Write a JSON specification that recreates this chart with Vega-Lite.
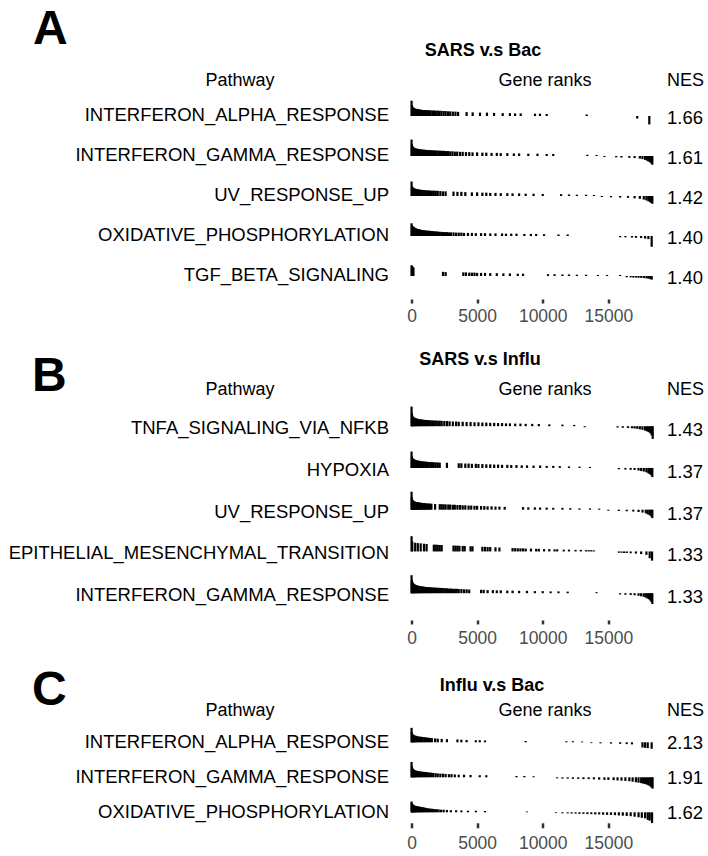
{
  "$schema": "https://vega.github.io/schema/vega-lite/v6.json",
  "padding": {"top": 5, "left": 0, "right": 0, "bottom": 0},
  "background": "white",
  "config": {"view": {"stroke": null}, "font": "Liberation Sans", "title": {"color": "black", "fontWeight": "normal", "fontSize": 18}},
  "datasets": {
    "paths": [
      {"g": "A", "k": "A1", "p": "INTERFERON_ALPHA_RESPONSE", "nes": 1.66},
      {"g": "A", "k": "A2", "p": "INTERFERON_GAMMA_RESPONSE", "nes": 1.61},
      {"g": "A", "k": "A3", "p": "UV_RESPONSE_UP", "nes": 1.42},
      {"g": "A", "k": "A4", "p": "OXIDATIVE_PHOSPHORYLATION", "nes": 1.40},
      {"g": "A", "k": "A5", "p": "TGF_BETA_SIGNALING", "nes": 1.40},
      {"g": "B", "k": "B1", "p": "TNFA_SIGNALING_VIA_NFKB", "nes": 1.43},
      {"g": "B", "k": "B2", "p": "HYPOXIA", "nes": 1.37},
      {"g": "B", "k": "B3", "p": "UV_RESPONSE_UP", "nes": 1.37},
      {"g": "B", "k": "B4", "p": "EPITHELIAL_MESENCHYMAL_TRANSITION", "nes": 1.33},
      {"g": "B", "k": "B5", "p": "INTERFERON_GAMMA_RESPONSE", "nes": 1.33},
      {"g": "C", "k": "C1", "p": "INTERFERON_ALPHA_RESPONSE", "nes": 2.13},
      {"g": "C", "k": "C2", "p": "INTERFERON_GAMMA_RESPONSE", "nes": 1.91},
      {"g": "C", "k": "C3", "p": "OXIDATIVE_PHOSPHORYLATION", "nes": 1.62}
    ],
    "bars": [
      {"k":"A1","r":5,"s":0.83},{"k":"A1","r":40,"s":0.55},{"k":"A1","r":80,"s":0.45},{"k":"A1","r":130,"s":0.4},{"k":"A1","r":180,"s":0.37},{"k":"A1","r":240,"s":0.35},{"k":"A1","r":300,"s":0.33},{"k":"A1","r":370,"s":0.32},{"k":"A1","r":440,"s":0.31},{"k":"A1","r":520,"s":0.3},{"k":"A1","r":600,"s":0.29},{"k":"A1","r":700,"s":0.27},{"k":"A1","r":800,"s":0.26},{"k":"A1","r":900,"s":0.25},{"k":"A1","r":1000,"s":0.25},{"k":"A1","r":1110,"s":0.24},{"k":"A1","r":1220,"s":0.24},{"k":"A1","r":1340,"s":0.23},{"k":"A1","r":1460,"s":0.23},{"k":"A1","r":1600,"s":0.22},{"k":"A1","r":1720,"s":0.22},{"k":"A1","r":1850,"s":0.21},{"k":"A1","r":2000,"s":0.21},{"k":"A1","r":2130,"s":0.2},{"k":"A1","r":2280,"s":0.2},{"k":"A1","r":2450,"s":0.19},{"k":"A1","r":2600,"s":0.19},{"k":"A1","r":2780,"s":0.18},{"k":"A1","r":2950,"s":0.18},{"k":"A1","r":3150,"s":0.17},{"k":"A1","r":3350,"s":0.17},{"k":"A1","r":3550,"s":0.16},{"k":"A1","r":4200,"s":0.15},{"k":"A1","r":4660,"s":0.14},{"k":"A1","r":5220,"s":0.13},{"k":"A1","r":5750,"s":0.13},{"k":"A1","r":6290,"s":0.12},{"k":"A1","r":6950,"s":0.11},{"k":"A1","r":7500,"s":0.11},{"k":"A1","r":7890,"s":0.1},{"k":"A1","r":8320,"s":0.1},{"k":"A1","r":9410,"s":0.09},{"k":"A1","r":9790,"s":0.09},{"k":"A1","r":10300,"s":0.08},{"k":"A1","r":13350,"s":0.06},{"k":"A1","r":17200,"s":-0.1},{"k":"A1","r":18120,"s":-0.4},
      {"k":"A2","r":5,"s":0.9},{"k":"A2","r":30,"s":0.6},{"k":"A2","r":70,"s":0.5},{"k":"A2","r":110,"s":0.45},{"k":"A2","r":160,"s":0.4},{"k":"A2","r":210,"s":0.38},{"k":"A2","r":270,"s":0.36},{"k":"A2","r":330,"s":0.34},{"k":"A2","r":400,"s":0.33},{"k":"A2","r":470,"s":0.32},{"k":"A2","r":540,"s":0.31},{"k":"A2","r":620,"s":0.3},{"k":"A2","r":700,"s":0.29},{"k":"A2","r":780,"s":0.28},{"k":"A2","r":870,"s":0.27},{"k":"A2","r":960,"s":0.27},{"k":"A2","r":1050,"s":0.26},{"k":"A2","r":1150,"s":0.25},{"k":"A2","r":1250,"s":0.25},{"k":"A2","r":1350,"s":0.24},{"k":"A2","r":1460,"s":0.24},{"k":"A2","r":1570,"s":0.23},{"k":"A2","r":1680,"s":0.23},{"k":"A2","r":1800,"s":0.22},{"k":"A2","r":1920,"s":0.22},{"k":"A2","r":2050,"s":0.21},{"k":"A2","r":2180,"s":0.21},{"k":"A2","r":2320,"s":0.2},{"k":"A2","r":2470,"s":0.2},{"k":"A2","r":2620,"s":0.19},{"k":"A2","r":2780,"s":0.19},{"k":"A2","r":2950,"s":0.18},{"k":"A2","r":3120,"s":0.18},{"k":"A2","r":3300,"s":0.17},{"k":"A2","r":3480,"s":0.17},{"k":"A2","r":3700,"s":0.16},{"k":"A2","r":3900,"s":0.16},{"k":"A2","r":4150,"s":0.15},{"k":"A2","r":4400,"s":0.15},{"k":"A2","r":4650,"s":0.14},{"k":"A2","r":5000,"s":0.14},{"k":"A2","r":5400,"s":0.13},{"k":"A2","r":5700,"s":0.13},{"k":"A2","r":6100,"s":0.12},{"k":"A2","r":6500,"s":0.12},{"k":"A2","r":6800,"s":0.11},{"k":"A2","r":7300,"s":0.11},{"k":"A2","r":7800,"s":0.1},{"k":"A2","r":8200,"s":0.1},{"k":"A2","r":8900,"s":0.09},{"k":"A2","r":9600,"s":0.09},{"k":"A2","r":10300,"s":0.08},{"k":"A2","r":10800,"s":0.08},{"k":"A2","r":13400,"s":0.05},{"k":"A2","r":14100,"s":0.04},{"k":"A2","r":14700,"s":-0.04},{"k":"A2","r":15600,"s":-0.05},{"k":"A2","r":16000,"s":-0.06},{"k":"A2","r":16600,"s":-0.07},{"k":"A2","r":17000,"s":-0.08},{"k":"A2","r":17400,"s":-0.1},{"k":"A2","r":17600,"s":-0.12},{"k":"A2","r":17800,"s":-0.15},{"k":"A2","r":17950,"s":-0.18},{"k":"A2","r":18050,"s":-0.21},{"k":"A2","r":18150,"s":-0.25},{"k":"A2","r":18230,"s":-0.3},{"k":"A2","r":18300,"s":-0.36},{"k":"A2","r":18350,"s":-0.42},
      {"k":"A3","r":5,"s":0.78},{"k":"A3","r":40,"s":0.5},{"k":"A3","r":90,"s":0.42},{"k":"A3","r":150,"s":0.38},{"k":"A3","r":220,"s":0.35},{"k":"A3","r":300,"s":0.33},{"k":"A3","r":380,"s":0.31},{"k":"A3","r":470,"s":0.3},{"k":"A3","r":560,"s":0.28},{"k":"A3","r":660,"s":0.27},{"k":"A3","r":770,"s":0.26},{"k":"A3","r":900,"s":0.25},{"k":"A3","r":1000,"s":0.24},{"k":"A3","r":1130,"s":0.23},{"k":"A3","r":1250,"s":0.23},{"k":"A3","r":1400,"s":0.22},{"k":"A3","r":1550,"s":0.21},{"k":"A3","r":1700,"s":0.21},{"k":"A3","r":1850,"s":0.2},{"k":"A3","r":2000,"s":0.2},{"k":"A3","r":2200,"s":0.19},{"k":"A3","r":2400,"s":0.18},{"k":"A3","r":2600,"s":0.18},{"k":"A3","r":3200,"s":0.17},{"k":"A3","r":3500,"s":0.16},{"k":"A3","r":3800,"s":0.16},{"k":"A3","r":4100,"s":0.15},{"k":"A3","r":4600,"s":0.14},{"k":"A3","r":5000,"s":0.14},{"k":"A3","r":5400,"s":0.13},{"k":"A3","r":5700,"s":0.13},{"k":"A3","r":6000,"s":0.12},{"k":"A3","r":6400,"s":0.12},{"k":"A3","r":6800,"s":0.11},{"k":"A3","r":7300,"s":0.11},{"k":"A3","r":7700,"s":0.1},{"k":"A3","r":8200,"s":0.1},{"k":"A3","r":8700,"s":0.09},{"k":"A3","r":9300,"s":0.09},{"k":"A3","r":10000,"s":0.08},{"k":"A3","r":11400,"s":0.07},{"k":"A3","r":12000,"s":0.06},{"k":"A3","r":12600,"s":0.05},{"k":"A3","r":13300,"s":0.05},{"k":"A3","r":13900,"s":0.04},{"k":"A3","r":14500,"s":-0.04},{"k":"A3","r":15200,"s":-0.05},{"k":"A3","r":15900,"s":-0.06},{"k":"A3","r":16500,"s":-0.07},{"k":"A3","r":17000,"s":-0.09},{"k":"A3","r":17400,"s":-0.11},{"k":"A3","r":17700,"s":-0.14},{"k":"A3","r":17900,"s":-0.17},{"k":"A3","r":18050,"s":-0.21},{"k":"A3","r":18180,"s":-0.26},{"k":"A3","r":18280,"s":-0.31},{"k":"A3","r":18350,"s":-0.36},
      {"k":"A4","r":5,"s":0.67},{"k":"A4","r":30,"s":0.55},{"k":"A4","r":60,"s":0.5},{"k":"A4","r":90,"s":0.47},{"k":"A4","r":130,"s":0.45},{"k":"A4","r":170,"s":0.42},{"k":"A4","r":210,"s":0.4},{"k":"A4","r":260,"s":0.38},{"k":"A4","r":310,"s":0.36},{"k":"A4","r":360,"s":0.34},{"k":"A4","r":420,"s":0.32},{"k":"A4","r":480,"s":0.31},{"k":"A4","r":540,"s":0.3},{"k":"A4","r":600,"s":0.28},{"k":"A4","r":670,"s":0.27},{"k":"A4","r":740,"s":0.26},{"k":"A4","r":810,"s":0.25},{"k":"A4","r":890,"s":0.24},{"k":"A4","r":970,"s":0.23},{"k":"A4","r":1050,"s":0.22},{"k":"A4","r":1130,"s":0.21},{"k":"A4","r":1220,"s":0.21},{"k":"A4","r":1310,"s":0.2},{"k":"A4","r":1400,"s":0.2},{"k":"A4","r":1500,"s":0.19},{"k":"A4","r":1600,"s":0.19},{"k":"A4","r":1700,"s":0.18},{"k":"A4","r":1810,"s":0.18},{"k":"A4","r":1920,"s":0.17},{"k":"A4","r":2030,"s":0.17},{"k":"A4","r":2150,"s":0.16},{"k":"A4","r":2280,"s":0.16},{"k":"A4","r":2400,"s":0.15},{"k":"A4","r":2550,"s":0.15},{"k":"A4","r":2700,"s":0.15},{"k":"A4","r":2850,"s":0.14},{"k":"A4","r":3000,"s":0.14},{"k":"A4","r":3200,"s":0.14},{"k":"A4","r":3400,"s":0.13},{"k":"A4","r":3600,"s":0.13},{"k":"A4","r":3800,"s":0.13},{"k":"A4","r":4000,"s":0.12},{"k":"A4","r":4300,"s":0.12},{"k":"A4","r":4600,"s":0.12},{"k":"A4","r":4900,"s":0.11},{"k":"A4","r":5300,"s":0.11},{"k":"A4","r":5600,"s":0.11},{"k":"A4","r":6000,"s":0.1},{"k":"A4","r":6400,"s":0.1},{"k":"A4","r":6900,"s":0.1},{"k":"A4","r":7200,"s":0.09},{"k":"A4","r":7600,"s":0.09},{"k":"A4","r":8000,"s":0.09},{"k":"A4","r":8600,"s":0.08},{"k":"A4","r":9100,"s":0.08},{"k":"A4","r":9500,"s":0.08},{"k":"A4","r":10100,"s":0.07},{"k":"A4","r":11200,"s":0.06},{"k":"A4","r":11900,"s":0.06},{"k":"A4","r":15900,"s":-0.05},{"k":"A4","r":16300,"s":-0.05},{"k":"A4","r":16800,"s":-0.06},{"k":"A4","r":17100,"s":-0.07},{"k":"A4","r":17500,"s":-0.08},{"k":"A4","r":17800,"s":-0.1},{"k":"A4","r":18050,"s":-0.12},{"k":"A4","r":18300,"s":-0.55},
      {"k":"A5","r":5,"s":0.55},{"k":"A5","r":40,"s":0.5},{"k":"A5","r":90,"s":0.45},{"k":"A5","r":150,"s":0.4},{"k":"A5","r":2400,"s":0.16},{"k":"A5","r":2600,"s":0.15},{"k":"A5","r":3950,"s":0.14},{"k":"A5","r":4150,"s":0.14},{"k":"A5","r":4400,"s":0.13},{"k":"A5","r":4600,"s":0.13},{"k":"A5","r":4800,"s":0.13},{"k":"A5","r":5000,"s":0.12},{"k":"A5","r":5300,"s":0.12},{"k":"A5","r":5600,"s":0.12},{"k":"A5","r":6000,"s":0.11},{"k":"A5","r":6500,"s":0.11},{"k":"A5","r":7000,"s":0.1},{"k":"A5","r":7500,"s":0.1},{"k":"A5","r":8100,"s":0.09},{"k":"A5","r":8500,"s":0.09},{"k":"A5","r":10400,"s":0.07},{"k":"A5","r":10900,"s":0.07},{"k":"A5","r":11500,"s":0.06},{"k":"A5","r":12000,"s":0.06},{"k":"A5","r":12600,"s":0.05},{"k":"A5","r":13300,"s":0.05},{"k":"A5","r":14200,"s":0.04},{"k":"A5","r":14900,"s":0.04},{"k":"A5","r":15900,"s":0.04},{"k":"A5","r":16400,"s":-0.05},{"k":"A5","r":16700,"s":-0.05},{"k":"A5","r":16900,"s":-0.06},{"k":"A5","r":17100,"s":-0.06},{"k":"A5","r":17300,"s":-0.07},{"k":"A5","r":17500,"s":-0.07},{"k":"A5","r":17700,"s":-0.08},{"k":"A5","r":17900,"s":-0.09},{"k":"A5","r":18050,"s":-0.1},{"k":"A5","r":18200,"s":-0.12},{"k":"A5","r":18300,"s":-0.14},
      {"k":"B1","r":5,"s":1.1},{"k":"B1","r":30,"s":0.7},{"k":"B1","r":60,"s":0.55},{"k":"B1","r":100,"s":0.48},{"k":"B1","r":150,"s":0.44},{"k":"B1","r":200,"s":0.41},{"k":"B1","r":260,"s":0.39},{"k":"B1","r":320,"s":0.37},{"k":"B1","r":390,"s":0.35},{"k":"B1","r":460,"s":0.34},{"k":"B1","r":540,"s":0.32},{"k":"B1","r":620,"s":0.31},{"k":"B1","r":700,"s":0.3},{"k":"B1","r":800,"s":0.29},{"k":"B1","r":900,"s":0.28},{"k":"B1","r":1000,"s":0.27},{"k":"B1","r":1100,"s":0.26},{"k":"B1","r":1200,"s":0.26},{"k":"B1","r":1330,"s":0.25},{"k":"B1","r":1450,"s":0.24},{"k":"B1","r":1580,"s":0.24},{"k":"B1","r":1700,"s":0.23},{"k":"B1","r":1850,"s":0.23},{"k":"B1","r":2000,"s":0.22},{"k":"B1","r":2150,"s":0.22},{"k":"B1","r":2300,"s":0.21},{"k":"B1","r":2500,"s":0.2},{"k":"B1","r":2700,"s":0.2},{"k":"B1","r":2900,"s":0.19},{"k":"B1","r":3150,"s":0.18},{"k":"B1","r":3400,"s":0.18},{"k":"B1","r":3600,"s":0.17},{"k":"B1","r":3900,"s":0.17},{"k":"B1","r":4200,"s":0.16},{"k":"B1","r":4500,"s":0.16},{"k":"B1","r":4800,"s":0.15},{"k":"B1","r":5100,"s":0.15},{"k":"B1","r":5400,"s":0.14},{"k":"B1","r":5700,"s":0.14},{"k":"B1","r":6000,"s":0.13},{"k":"B1","r":6300,"s":0.13},{"k":"B1","r":6600,"s":0.12},{"k":"B1","r":6900,"s":0.12},{"k":"B1","r":7200,"s":0.11},{"k":"B1","r":7500,"s":0.11},{"k":"B1","r":7900,"s":0.1},{"k":"B1","r":8300,"s":0.1},{"k":"B1","r":8700,"s":0.09},{"k":"B1","r":9200,"s":0.09},{"k":"B1","r":9700,"s":0.08},{"k":"B1","r":10500,"s":0.07},{"k":"B1","r":11500,"s":0.06},{"k":"B1","r":12400,"s":0.05},{"k":"B1","r":13200,"s":-0.04},{"k":"B1","r":15700,"s":-0.05},{"k":"B1","r":16100,"s":-0.06},{"k":"B1","r":16500,"s":-0.07},{"k":"B1","r":16800,"s":-0.08},{"k":"B1","r":17000,"s":-0.09},{"k":"B1","r":17200,"s":-0.1},{"k":"B1","r":17400,"s":-0.12},{"k":"B1","r":17600,"s":-0.14},{"k":"B1","r":17800,"s":-0.17},{"k":"B1","r":17950,"s":-0.2},{"k":"B1","r":18080,"s":-0.25},{"k":"B1","r":18200,"s":-0.32},{"k":"B1","r":18300,"s":-0.45},{"k":"B1","r":18380,"s":-0.67},
      {"k":"B2","r":5,"s":0.9},{"k":"B2","r":30,"s":0.6},{"k":"B2","r":70,"s":0.5},{"k":"B2","r":120,"s":0.45},{"k":"B2","r":180,"s":0.42},{"k":"B2","r":250,"s":0.39},{"k":"B2","r":330,"s":0.37},{"k":"B2","r":420,"s":0.35},{"k":"B2","r":520,"s":0.33},{"k":"B2","r":620,"s":0.32},{"k":"B2","r":730,"s":0.3},{"k":"B2","r":840,"s":0.29},{"k":"B2","r":950,"s":0.28},{"k":"B2","r":1060,"s":0.27},{"k":"B2","r":1180,"s":0.26},{"k":"B2","r":1300,"s":0.25},{"k":"B2","r":1430,"s":0.24},{"k":"B2","r":1560,"s":0.24},{"k":"B2","r":1700,"s":0.23},{"k":"B2","r":1850,"s":0.22},{"k":"B2","r":2000,"s":0.22},{"k":"B2","r":2150,"s":0.21},{"k":"B2","r":2700,"s":0.2},{"k":"B2","r":3600,"s":0.18},{"k":"B2","r":3800,"s":0.18},{"k":"B2","r":4100,"s":0.17},{"k":"B2","r":4350,"s":0.17},{"k":"B2","r":4600,"s":0.16},{"k":"B2","r":4900,"s":0.16},{"k":"B2","r":5100,"s":0.15},{"k":"B2","r":5400,"s":0.15},{"k":"B2","r":5700,"s":0.14},{"k":"B2","r":6000,"s":0.14},{"k":"B2","r":6300,"s":0.13},{"k":"B2","r":6600,"s":0.13},{"k":"B2","r":6900,"s":0.12},{"k":"B2","r":7300,"s":0.12},{"k":"B2","r":7600,"s":0.11},{"k":"B2","r":8000,"s":0.11},{"k":"B2","r":8400,"s":0.1},{"k":"B2","r":8800,"s":0.1},{"k":"B2","r":9300,"s":0.09},{"k":"B2","r":9800,"s":0.09},{"k":"B2","r":10300,"s":0.08},{"k":"B2","r":10800,"s":0.08},{"k":"B2","r":11300,"s":0.07},{"k":"B2","r":12000,"s":0.06},{"k":"B2","r":12800,"s":0.05},{"k":"B2","r":13600,"s":0.04},{"k":"B2","r":15800,"s":-0.05},{"k":"B2","r":16300,"s":-0.06},{"k":"B2","r":16700,"s":-0.07},{"k":"B2","r":17000,"s":-0.08},{"k":"B2","r":17300,"s":-0.1},{"k":"B2","r":17500,"s":-0.12},{"k":"B2","r":17700,"s":-0.14},{"k":"B2","r":17900,"s":-0.17},{"k":"B2","r":18050,"s":-0.21},{"k":"B2","r":18150,"s":-0.26},{"k":"B2","r":18250,"s":-0.33},{"k":"B2","r":18350,"s":-0.45},
      {"k":"B3","r":5,"s":1.0},{"k":"B3","r":25,"s":0.65},{"k":"B3","r":55,"s":0.52},{"k":"B3","r":90,"s":0.47},{"k":"B3","r":130,"s":0.44},{"k":"B3","r":175,"s":0.41},{"k":"B3","r":225,"s":0.39},{"k":"B3","r":280,"s":0.37},{"k":"B3","r":340,"s":0.36},{"k":"B3","r":400,"s":0.35},{"k":"B3","r":470,"s":0.34},{"k":"B3","r":540,"s":0.33},{"k":"B3","r":610,"s":0.32},{"k":"B3","r":690,"s":0.31},{"k":"B3","r":770,"s":0.3},{"k":"B3","r":850,"s":0.29},{"k":"B3","r":940,"s":0.28},{"k":"B3","r":1030,"s":0.28},{"k":"B3","r":1120,"s":0.27},{"k":"B3","r":1220,"s":0.26},{"k":"B3","r":1320,"s":0.26},{"k":"B3","r":1420,"s":0.25},{"k":"B3","r":1520,"s":0.25},{"k":"B3","r":1800,"s":0.23},{"k":"B3","r":2150,"s":0.22},{"k":"B3","r":2300,"s":0.22},{"k":"B3","r":2450,"s":0.21},{"k":"B3","r":2600,"s":0.21},{"k":"B3","r":2800,"s":0.2},{"k":"B3","r":2950,"s":0.2},{"k":"B3","r":3150,"s":0.19},{"k":"B3","r":3300,"s":0.19},{"k":"B3","r":3500,"s":0.18},{"k":"B3","r":3700,"s":0.18},{"k":"B3","r":3900,"s":0.17},{"k":"B3","r":4100,"s":0.17},{"k":"B3","r":4350,"s":0.16},{"k":"B3","r":4550,"s":0.16},{"k":"B3","r":4800,"s":0.15},{"k":"B3","r":5000,"s":0.15},{"k":"B3","r":5300,"s":0.14},{"k":"B3","r":5550,"s":0.14},{"k":"B3","r":5800,"s":0.13},{"k":"B3","r":6100,"s":0.13},{"k":"B3","r":6400,"s":0.12},{"k":"B3","r":6700,"s":0.12},{"k":"B3","r":7100,"s":0.11},{"k":"B3","r":8500,"s":0.1},{"k":"B3","r":8900,"s":0.09},{"k":"B3","r":9400,"s":0.09},{"k":"B3","r":9800,"s":0.08},{"k":"B3","r":10300,"s":0.08},{"k":"B3","r":10800,"s":0.07},{"k":"B3","r":11500,"s":0.07},{"k":"B3","r":12100,"s":0.06},{"k":"B3","r":12800,"s":0.05},{"k":"B3","r":13600,"s":0.05},{"k":"B3","r":14300,"s":0.04},{"k":"B3","r":15000,"s":-0.04},{"k":"B3","r":15800,"s":-0.05},{"k":"B3","r":16400,"s":-0.06},{"k":"B3","r":16900,"s":-0.07},{"k":"B3","r":17300,"s":-0.09},{"k":"B3","r":17600,"s":-0.11},{"k":"B3","r":17850,"s":-0.14},{"k":"B3","r":18000,"s":-0.18},{"k":"B3","r":18150,"s":-0.23},{"k":"B3","r":18270,"s":-0.3},{"k":"B3","r":18350,"s":-0.4},
      {"k":"B4","r":5,"s":0.83},{"k":"B4","r":60,"s":0.5},{"k":"B4","r":280,"s":0.42},{"k":"B4","r":480,"s":0.4},{"k":"B4","r":700,"s":0.38},{"k":"B4","r":950,"s":0.36},{"k":"B4","r":1150,"s":0.34},{"k":"B4","r":1700,"s":0.3},{"k":"B4","r":1850,"s":0.3},{"k":"B4","r":2000,"s":0.29},{"k":"B4","r":2150,"s":0.28},{"k":"B4","r":2300,"s":0.28},{"k":"B4","r":3200,"s":0.24},{"k":"B4","r":3350,"s":0.24},{"k":"B4","r":3500,"s":0.23},{"k":"B4","r":3650,"s":0.23},{"k":"B4","r":3900,"s":0.22},{"k":"B4","r":4050,"s":0.22},{"k":"B4","r":4500,"s":0.2},{"k":"B4","r":4650,"s":0.2},{"k":"B4","r":5400,"s":0.18},{"k":"B4","r":5600,"s":0.18},{"k":"B4","r":5800,"s":0.17},{"k":"B4","r":6000,"s":0.17},{"k":"B4","r":6400,"s":0.16},{"k":"B4","r":6700,"s":0.15},{"k":"B4","r":7700,"s":0.13},{"k":"B4","r":7900,"s":0.13},{"k":"B4","r":8100,"s":0.12},{"k":"B4","r":8300,"s":0.12},{"k":"B4","r":8500,"s":0.12},{"k":"B4","r":8700,"s":0.11},{"k":"B4","r":9100,"s":0.11},{"k":"B4","r":9500,"s":0.1},{"k":"B4","r":9700,"s":0.1},{"k":"B4","r":10100,"s":0.09},{"k":"B4","r":10500,"s":0.09},{"k":"B4","r":10900,"s":0.08},{"k":"B4","r":11100,"s":0.08},{"k":"B4","r":11600,"s":0.07},{"k":"B4","r":12000,"s":0.07},{"k":"B4","r":12500,"s":0.06},{"k":"B4","r":12900,"s":0.06},{"k":"B4","r":13300,"s":0.05},{"k":"B4","r":13500,"s":0.05},{"k":"B4","r":13700,"s":0.05},{"k":"B4","r":13900,"s":0.04},{"k":"B4","r":15800,"s":-0.05},{"k":"B4","r":16000,"s":-0.05},{"k":"B4","r":16200,"s":-0.06},{"k":"B4","r":16400,"s":-0.06},{"k":"B4","r":16700,"s":-0.07},{"k":"B4","r":17100,"s":-0.08},{"k":"B4","r":17500,"s":-0.1},{"k":"B4","r":17900,"s":-0.13},{"k":"B4","r":18150,"s":-0.3},{"k":"B4","r":18330,"s":-0.45},
      {"k":"B5","r":5,"s":1.0},{"k":"B5","r":25,"s":0.7},{"k":"B5","r":50,"s":0.6},{"k":"B5","r":80,"s":0.55},{"k":"B5","r":115,"s":0.5},{"k":"B5","r":150,"s":0.47},{"k":"B5","r":190,"s":0.45},{"k":"B5","r":235,"s":0.42},{"k":"B5","r":280,"s":0.4},{"k":"B5","r":330,"s":0.38},{"k":"B5","r":380,"s":0.37},{"k":"B5","r":440,"s":0.35},{"k":"B5","r":500,"s":0.34},{"k":"B5","r":560,"s":0.33},{"k":"B5","r":630,"s":0.32},{"k":"B5","r":700,"s":0.31},{"k":"B5","r":780,"s":0.3},{"k":"B5","r":860,"s":0.29},{"k":"B5","r":940,"s":0.28},{"k":"B5","r":1020,"s":0.27},{"k":"B5","r":1110,"s":0.26},{"k":"B5","r":1200,"s":0.26},{"k":"B5","r":1300,"s":0.25},{"k":"B5","r":1400,"s":0.24},{"k":"B5","r":1500,"s":0.24},{"k":"B5","r":1600,"s":0.23},{"k":"B5","r":1710,"s":0.23},{"k":"B5","r":1820,"s":0.22},{"k":"B5","r":1930,"s":0.22},{"k":"B5","r":2050,"s":0.21},{"k":"B5","r":2170,"s":0.21},{"k":"B5","r":2300,"s":0.2},{"k":"B5","r":2430,"s":0.2},{"k":"B5","r":2570,"s":0.19},{"k":"B5","r":2700,"s":0.19},{"k":"B5","r":2850,"s":0.18},{"k":"B5","r":3000,"s":0.18},{"k":"B5","r":3150,"s":0.17},{"k":"B5","r":3300,"s":0.17},{"k":"B5","r":3450,"s":0.17},{"k":"B5","r":3600,"s":0.16},{"k":"B5","r":3800,"s":0.16},{"k":"B5","r":4000,"s":0.15},{"k":"B5","r":4200,"s":0.15},{"k":"B5","r":4400,"s":0.14},{"k":"B5","r":5300,"s":0.13},{"k":"B5","r":5500,"s":0.13},{"k":"B5","r":5800,"s":0.12},{"k":"B5","r":6200,"s":0.12},{"k":"B5","r":6500,"s":0.11},{"k":"B5","r":6800,"s":0.11},{"k":"B5","r":7300,"s":0.1},{"k":"B5","r":7700,"s":0.1},{"k":"B5","r":8200,"s":0.09},{"k":"B5","r":8800,"s":0.09},{"k":"B5","r":9400,"s":0.08},{"k":"B5","r":10000,"s":0.08},{"k":"B5","r":10600,"s":0.07},{"k":"B5","r":11200,"s":0.07},{"k":"B5","r":11900,"s":0.06},{"k":"B5","r":14100,"s":0.04},{"k":"B5","r":15900,"s":-0.05},{"k":"B5","r":16300,"s":-0.06},{"k":"B5","r":16700,"s":-0.07},{"k":"B5","r":17000,"s":-0.08},{"k":"B5","r":17300,"s":-0.1},{"k":"B5","r":17500,"s":-0.12},{"k":"B5","r":17700,"s":-0.14},{"k":"B5","r":17850,"s":-0.17},{"k":"B5","r":17980,"s":-0.21},{"k":"B5","r":18100,"s":-0.26},{"k":"B5","r":18200,"s":-0.33},{"k":"B5","r":18280,"s":-0.42},{"k":"B5","r":18350,"s":-0.55},
      {"k":"C1","r":5,"s":0.78},{"k":"C1","r":30,"s":0.5},{"k":"C1","r":70,"s":0.4},{"k":"C1","r":120,"s":0.35},{"k":"C1","r":180,"s":0.32},{"k":"C1","r":250,"s":0.3},{"k":"C1","r":330,"s":0.28},{"k":"C1","r":420,"s":0.26},{"k":"C1","r":520,"s":0.24},{"k":"C1","r":620,"s":0.23},{"k":"C1","r":730,"s":0.22},{"k":"C1","r":850,"s":0.21},{"k":"C1","r":980,"s":0.2},{"k":"C1","r":1100,"s":0.19},{"k":"C1","r":1250,"s":0.18},{"k":"C1","r":1400,"s":0.17},{"k":"C1","r":1550,"s":0.16},{"k":"C1","r":1800,"s":0.15},{"k":"C1","r":2000,"s":0.14},{"k":"C1","r":2300,"s":0.13},{"k":"C1","r":2700,"s":0.12},{"k":"C1","r":3500,"s":0.11},{"k":"C1","r":3800,"s":0.1},{"k":"C1","r":4200,"s":0.09},{"k":"C1","r":4900,"s":0.08},{"k":"C1","r":5200,"s":0.08},{"k":"C1","r":5600,"s":0.07},{"k":"C1","r":8700,"s":0.05},{"k":"C1","r":11800,"s":0.04},{"k":"C1","r":12300,"s":0.04},{"k":"C1","r":13000,"s":0.03},{"k":"C1","r":13700,"s":-0.03},{"k":"C1","r":14400,"s":-0.04},{"k":"C1","r":15200,"s":-0.05},{"k":"C1","r":15900,"s":-0.06},{"k":"C1","r":16400,"s":-0.07},{"k":"C1","r":16800,"s":-0.08},{"k":"C1","r":17600,"s":-0.2},{"k":"C1","r":17800,"s":-0.22},{"k":"C1","r":18000,"s":-0.24},{"k":"C1","r":18300,"s":-0.28},
      {"k":"C2","r":5,"s":0.83},{"k":"C2","r":30,"s":0.55},{"k":"C2","r":65,"s":0.45},{"k":"C2","r":110,"s":0.4},{"k":"C2","r":160,"s":0.36},{"k":"C2","r":220,"s":0.33},{"k":"C2","r":290,"s":0.31},{"k":"C2","r":370,"s":0.29},{"k":"C2","r":460,"s":0.27},{"k":"C2","r":560,"s":0.26},{"k":"C2","r":670,"s":0.24},{"k":"C2","r":780,"s":0.23},{"k":"C2","r":900,"s":0.22},{"k":"C2","r":1030,"s":0.21},{"k":"C2","r":1170,"s":0.2},{"k":"C2","r":1320,"s":0.19},{"k":"C2","r":1480,"s":0.18},{"k":"C2","r":1650,"s":0.17},{"k":"C2","r":1830,"s":0.16},{"k":"C2","r":2000,"s":0.15},{"k":"C2","r":2200,"s":0.14},{"k":"C2","r":2400,"s":0.14},{"k":"C2","r":2600,"s":0.13},{"k":"C2","r":2850,"s":0.12},{"k":"C2","r":3050,"s":0.12},{"k":"C2","r":3300,"s":0.11},{"k":"C2","r":3600,"s":0.1},{"k":"C2","r":4000,"s":0.1},{"k":"C2","r":4500,"s":0.09},{"k":"C2","r":5200,"s":0.08},{"k":"C2","r":5700,"s":0.08},{"k":"C2","r":8000,"s":0.05},{"k":"C2","r":8600,"s":0.05},{"k":"C2","r":9300,"s":0.04},{"k":"C2","r":11100,"s":-0.04},{"k":"C2","r":11500,"s":-0.05},{"k":"C2","r":11900,"s":-0.05},{"k":"C2","r":12300,"s":-0.06},{"k":"C2","r":12700,"s":-0.06},{"k":"C2","r":13100,"s":-0.07},{"k":"C2","r":13500,"s":-0.07},{"k":"C2","r":13900,"s":-0.08},{"k":"C2","r":14300,"s":-0.09},{"k":"C2","r":14700,"s":-0.1},{"k":"C2","r":15000,"s":-0.1},{"k":"C2","r":15400,"s":-0.11},{"k":"C2","r":15700,"s":-0.12},{"k":"C2","r":16000,"s":-0.13},{"k":"C2","r":16300,"s":-0.14},{"k":"C2","r":16600,"s":-0.15},{"k":"C2","r":16850,"s":-0.17},{"k":"C2","r":17100,"s":-0.19},{"k":"C2","r":17300,"s":-0.21},{"k":"C2","r":17500,"s":-0.24},{"k":"C2","r":17650,"s":-0.27},{"k":"C2","r":17800,"s":-0.3},{"k":"C2","r":17950,"s":-0.34},{"k":"C2","r":18080,"s":-0.39},{"k":"C2","r":18200,"s":-0.45},{"k":"C2","r":18300,"s":-0.52},{"k":"C2","r":18370,"s":-0.58},
      {"k":"C3","r":5,"s":0.55},{"k":"C3","r":25,"s":0.45},{"k":"C3","r":50,"s":0.4},{"k":"C3","r":80,"s":0.37},{"k":"C3","r":115,"s":0.34},{"k":"C3","r":155,"s":0.32},{"k":"C3","r":200,"s":0.3},{"k":"C3","r":250,"s":0.28},{"k":"C3","r":300,"s":0.27},{"k":"C3","r":360,"s":0.26},{"k":"C3","r":420,"s":0.25},{"k":"C3","r":490,"s":0.24},{"k":"C3","r":560,"s":0.23},{"k":"C3","r":640,"s":0.22},{"k":"C3","r":720,"s":0.21},{"k":"C3","r":800,"s":0.2},{"k":"C3","r":890,"s":0.19},{"k":"C3","r":980,"s":0.18},{"k":"C3","r":1080,"s":0.17},{"k":"C3","r":1180,"s":0.16},{"k":"C3","r":1290,"s":0.15},{"k":"C3","r":1400,"s":0.14},{"k":"C3","r":1520,"s":0.14},{"k":"C3","r":1650,"s":0.13},{"k":"C3","r":1780,"s":0.12},{"k":"C3","r":1920,"s":0.12},{"k":"C3","r":2070,"s":0.11},{"k":"C3","r":2250,"s":0.1},{"k":"C3","r":2450,"s":0.1},{"k":"C3","r":2700,"s":0.09},{"k":"C3","r":3000,"s":0.08},{"k":"C3","r":3400,"s":0.08},{"k":"C3","r":3800,"s":0.07},{"k":"C3","r":4300,"s":0.06},{"k":"C3","r":4900,"s":0.06},{"k":"C3","r":5600,"s":0.05},{"k":"C3","r":8800,"s":0.03},{"k":"C3","r":11000,"s":-0.03},{"k":"C3","r":11500,"s":-0.04},{"k":"C3","r":11900,"s":-0.04},{"k":"C3","r":12200,"s":-0.05},{"k":"C3","r":12500,"s":-0.05},{"k":"C3","r":12800,"s":-0.06},{"k":"C3","r":13100,"s":-0.06},{"k":"C3","r":13400,"s":-0.07},{"k":"C3","r":13700,"s":-0.07},{"k":"C3","r":14000,"s":-0.08},{"k":"C3","r":14300,"s":-0.08},{"k":"C3","r":14600,"s":-0.09},{"k":"C3","r":14900,"s":-0.1},{"k":"C3","r":15200,"s":-0.1},{"k":"C3","r":15500,"s":-0.11},{"k":"C3","r":15800,"s":-0.12},{"k":"C3","r":16100,"s":-0.13},{"k":"C3","r":16400,"s":-0.14},{"k":"C3","r":16700,"s":-0.15},{"k":"C3","r":17000,"s":-0.17},{"k":"C3","r":17300,"s":-0.19},{"k":"C3","r":17550,"s":-0.22},{"k":"C3","r":17800,"s":-0.25},{"k":"C3","r":18000,"s":-0.35},{"k":"C3","r":18150,"s":-0.4},{"k":"C3","r":18330,"s":-0.55}
    ]
  },
  "spacing": 20.3,
  "vconcat": [
    {
      "spacing": 25.2,
      "vconcat": [
        {
          "title": {"text": "A", "anchor": "start", "fontSize": 48, "fontWeight": "bold", "dx": 33, "offset": -11.6},
          "vconcat": [{
            "title": {"text": "SARS v.s Bac", "anchor": "middle", "fontSize": 18, "fontWeight": "bold", "dx": 129, "offset": 12},
            "bounds": "flush",
            "spacing": 22.5,
            "hconcat": [
              {"width": 389, "height": 200,
               "title": {"text": "Pathway", "anchor": "middle", "frame": "group", "dx": 45.5, "offset": 6},
               "data": {"name": "paths"}, "transform": [{"filter": {"field": "g", "equal": "A"}}],
               "mark": {"type": "text", "align": "right", "baseline": "middle", "fontSize": 18.5, "dy": -1, "color": "black"},
               "encoding": {"y": {"field": "k", "type": "nominal", "axis": null, "scale": {"type": "band", "paddingInner": 0, "paddingOuter": 0}}, "x": {"value": "width"}, "text": {"field": "p", "type": "nominal"}}},
              {"width": 242, "height": 200,
               "title": {"text": "Gene ranks", "anchor": "middle", "frame": "group", "dx": 12.5, "offset": 6},
               "data": {"name": "bars"}, "transform": [{"filter": {"field": "k", "oneOf": ["A1", "A2", "A3", "A4", "A5"]}}],
               "mark": {"type": "tick", "orient": "vertical", "thickness": 2.2, "color": "black", "opacity": 1},
               "encoding": {
                 "x": {"field": "r", "type": "quantitative", "scale": {"domain": [0, 18440], "nice": false}, "axis": {"values": [0, 5000, 10000, 15000], "format": "d", "title": null, "domain": false, "grid": false, "tickSize": 4, "tickWidth": 2.5, "tickColor": "#333333", "labelFontSize": 17.5, "labelColor": "#4d4d4d", "labelPadding": 4.5, "labelFlush": false, "offset": 3}},
                 "y": {"field": "k", "type": "nominal", "axis": null, "scale": {"type": "band", "paddingInner": 0, "paddingOuter": 0}},
                 "yOffset": {"field": "s", "type": "quantitative", "scale": {"domain": [-1, -0.2, 0, 0.2, 1], "range": [29, 22.6, 20, 17.4, 11]}},
                 "size": {"field": "s", "type": "quantitative", "scale": {"domain": [-1, -0.2, 0, 0.2, 1], "range": [18, 5.2, 0, 5.2, 18]}, "legend": null}
               }},
              {"width": 32, "height": 200,
               "title": {"text": "NES", "anchor": "start", "frame": "group", "dx": -9, "offset": 6},
               "data": {"name": "paths"}, "transform": [{"filter": {"field": "g", "equal": "A"}}],
               "mark": {"type": "text", "align": "left", "baseline": "middle", "fontSize": 18.5, "dx": -9, "dy": 2, "color": "black"},
               "encoding": {"y": {"field": "k", "type": "nominal", "axis": null, "scale": {"type": "band", "paddingInner": 0, "paddingOuter": 0}}, "x": {"value": 0}, "text": {"field": "nes", "type": "quantitative", "format": ".2f"}}}
            ]
          }]
        },
        {
          "title": {"text": "B", "anchor": "start", "fontSize": 48, "fontWeight": "bold", "dx": 32, "offset": -49.8},
          "vconcat": [{
            "title": {"text": "SARS v.s Influ", "anchor": "middle", "fontSize": 18, "fontWeight": "bold", "dx": 126, "offset": 12},
            "bounds": "flush",
            "spacing": 22.5,
            "hconcat": [
              {"width": 389, "height": 208.75,
               "title": {"text": "Pathway", "anchor": "middle", "frame": "group", "dx": 45.5, "offset": 7.5},
               "data": {"name": "paths"}, "transform": [{"filter": {"field": "g", "equal": "B"}}],
               "mark": {"type": "text", "align": "right", "baseline": "middle", "fontSize": 18.5, "dy": 1, "color": "black"},
               "encoding": {"y": {"field": "k", "type": "nominal", "axis": null, "scale": {"type": "band", "paddingInner": 0, "paddingOuter": 0}}, "x": {"value": "width"}, "text": {"field": "p", "type": "nominal"}}},
              {"width": 242, "height": 208.75,
               "title": {"text": "Gene ranks", "anchor": "middle", "frame": "group", "dx": 12.5, "offset": 7.5},
               "data": {"name": "bars"}, "transform": [{"filter": {"field": "k", "oneOf": ["B1", "B2", "B3", "B4", "B5"]}}],
               "mark": {"type": "tick", "orient": "vertical", "thickness": 2.2, "color": "black", "opacity": 1},
               "encoding": {
                 "x": {"field": "r", "type": "quantitative", "scale": {"domain": [0, 18440], "nice": false}, "axis": {"values": [0, 5000, 10000, 15000], "format": "d", "title": null, "domain": false, "grid": false, "tickSize": 4, "tickWidth": 2.5, "tickColor": "#333333", "labelFontSize": 17.5, "labelColor": "#4d4d4d", "labelPadding": 5.5, "labelFlush": false, "offset": 5}},
                 "y": {"field": "k", "type": "nominal", "axis": null, "scale": {"type": "band", "paddingInner": 0, "paddingOuter": 0}},
                 "yOffset": {"field": "s", "type": "quantitative", "scale": {"domain": [-1, -0.2, 0, 0.2, 1], "range": [29.875, 23.475, 20.875, 18.275, 11.875]}},
                 "size": {"field": "s", "type": "quantitative", "scale": {"domain": [-1, -0.2, 0, 0.2, 1], "range": [18, 5.2, 0, 5.2, 18]}, "legend": null}
               }},
              {"width": 32, "height": 208.75,
               "title": {"text": "NES", "anchor": "start", "frame": "group", "dx": -9, "offset": 7.5},
               "data": {"name": "paths"}, "transform": [{"filter": {"field": "g", "equal": "B"}}],
               "mark": {"type": "text", "align": "left", "baseline": "middle", "fontSize": 18.5, "dx": -9, "dy": 3, "color": "black"},
               "encoding": {"y": {"field": "k", "type": "nominal", "axis": null, "scale": {"type": "band", "paddingInner": 0, "paddingOuter": 0}}, "x": {"value": 0}, "text": {"field": "nes", "type": "quantitative", "format": ".2f"}}}
            ]
          }]
        }
      ]
    },
    {
      "title": {"text": "C", "anchor": "start", "fontSize": 48, "fontWeight": "bold", "dx": 32, "offset": -38.9},
      "vconcat": [{
        "title": {"text": "Influ v.s Bac", "anchor": "middle", "fontSize": 18, "fontWeight": "bold", "dx": 138, "offset": 7},
        "bounds": "flush",
        "spacing": 22.5,
        "hconcat": [
          {"width": 389, "height": 105,
           "title": {"text": "Pathway", "anchor": "middle", "frame": "group", "dx": 45.5, "offset": 2.8},
           "data": {"name": "paths"}, "transform": [{"filter": {"field": "g", "equal": "C"}}],
           "mark": {"type": "text", "align": "right", "baseline": "middle", "fontSize": 18.5, "dy": 2, "color": "black"},
           "encoding": {"y": {"field": "k", "type": "nominal", "axis": null, "scale": {"type": "band", "paddingInner": 0, "paddingOuter": 0}}, "x": {"value": "width"}, "text": {"field": "p", "type": "nominal"}}},
          {"width": 242, "height": 105,
           "title": {"text": "Gene ranks", "anchor": "middle", "frame": "group", "dx": 12.5, "offset": 2.8},
           "data": {"name": "bars"}, "transform": [{"filter": {"field": "k", "oneOf": ["C1", "C2", "C3"]}}],
           "mark": {"type": "tick", "orient": "vertical", "thickness": 2.2, "color": "black", "opacity": 1},
           "encoding": {
             "x": {"field": "r", "type": "quantitative", "scale": {"domain": [0, 18440], "nice": false}, "axis": {"values": [0, 5000, 10000, 15000], "format": "d", "title": null, "domain": false, "grid": false, "tickSize": 5, "tickWidth": 2.5, "tickColor": "#333333", "labelFontSize": 17.5, "labelColor": "#4d4d4d", "labelPadding": 7, "labelFlush": false, "offset": -4.5}},
             "y": {"field": "k", "type": "nominal", "axis": null, "scale": {"type": "band", "paddingInner": 0, "paddingOuter": 0}},
             "yOffset": {"field": "s", "type": "quantitative", "scale": {"domain": [-1, -0.2, 0, 0.2, 1], "range": [26.5, 20.1, 17.5, 14.9, 8.5]}},
             "size": {"field": "s", "type": "quantitative", "scale": {"domain": [-1, -0.2, 0, 0.2, 1], "range": [18, 5.2, 0, 5.2, 18]}, "legend": null}
           }},
          {"width": 32, "height": 105,
           "title": {"text": "NES", "anchor": "start", "frame": "group", "dx": -9, "offset": 2.8},
           "data": {"name": "paths"}, "transform": [{"filter": {"field": "g", "equal": "C"}}],
           "mark": {"type": "text", "align": "left", "baseline": "middle", "fontSize": 18.5, "dx": -9, "dy": 3, "color": "black"},
           "encoding": {"y": {"field": "k", "type": "nominal", "axis": null, "scale": {"type": "band", "paddingInner": 0, "paddingOuter": 0}}, "x": {"value": 0}, "text": {"field": "nes", "type": "quantitative", "format": ".2f"}}}
        ]
      }]
    }
  ]
}
